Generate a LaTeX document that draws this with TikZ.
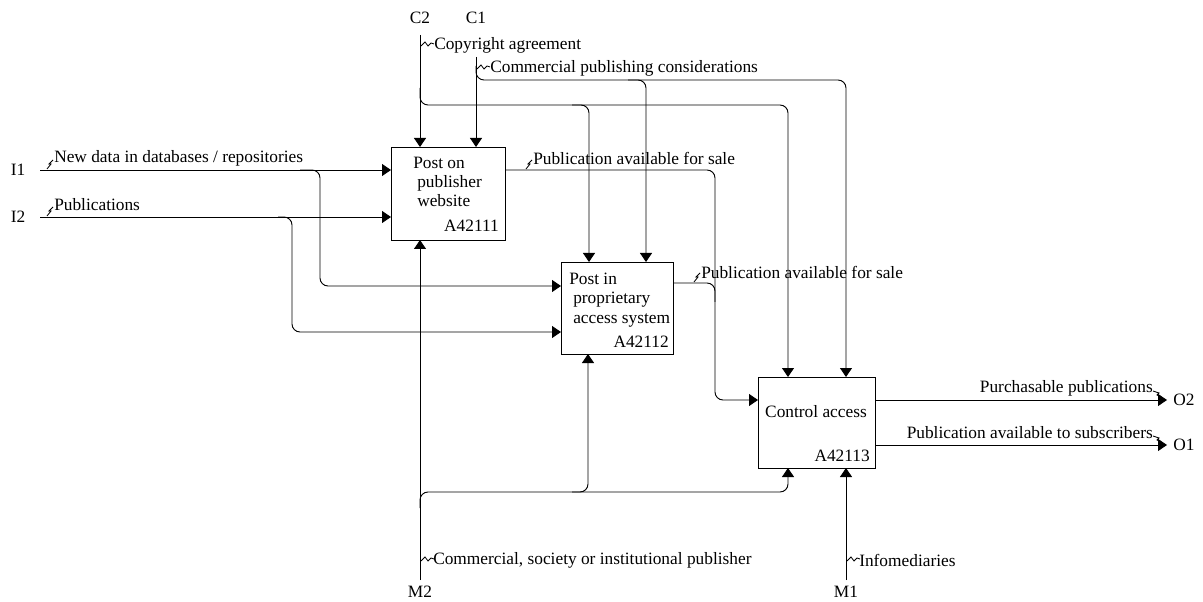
\documentclass[tikz,border=0pt]{standalone}
\usepackage{fontspec}
\setmainfont{Liberation Serif}
\usetikzlibrary{arrows.meta}
\tikzset{
  ln/.style={line width=0.7pt},
  arr/.style={ln, -{Triangle[length=6.75pt,width=9pt]}},
  rc/.style={rounded corners=6pt},
  sq/.style={line width=0.6pt},
  lbl/.style={anchor=west},
  boxtxt/.style={anchor=base west},
  boxid/.style={anchor=base east},
  boxnode/.style={draw, line width=0.7pt, inner sep=0pt, outer sep=0pt}
}
\begin{document}
\begin{tikzpicture}[x=0.75pt,y=-0.75pt,
  every node/.append style={font=\fontsize{13}{15}\selectfont, inner sep=0pt}]
\useasboundingbox (0,0) rectangle (1203,602);

% boxes
\node[boxnode, minimum width=85.5pt, minimum height=69.75pt] (b1) at (448,193.5) {};
\node[boxnode, minimum width=84pt, minimum height=69pt] (b2) at (617,308) {};
\node[boxnode, minimum width=87.75pt, minimum height=68.25pt] (b3) at (816.5,422.5) {};

% box texts
\node[boxtxt] (t1a) at (413,169) {Post on};
\node[boxtxt] (t1b) at (417,188) {publisher};
\node[boxtxt] (t1c) at (417,207) {website};
\node[boxid] (id1) at (499,232) {A42111};
\node[boxtxt] (t2a) at (569,285) {Post in};
\node[boxtxt] (t2b) at (573,304) {proprietary};
\node[boxtxt] (t2c) at (573,324) {access system};
\node[boxid] (id2) at (669,347) {A42112};
\node[anchor=base] (t3) at (816,417) {Control access};
\node[boxid] (id3) at (870,461) {A42113};

% boundary labels
\node (I1) at (18,170) {I1};
\node (I2) at (18,217) {I2};
\node (C2) at (420,18) {C2};
\node (C1) at (476,18) {C1};
\node (M2) at (420,592) {M2};
\node (M1) at (846,592) {M1};
\node[anchor=west] (O2) at (1173,400) {O2};
\node[anchor=west] (O1) at (1173,445) {O1};

\coordinate (i1) at (40,170);
\coordinate (i2) at (40,217);
\coordinate (c2) at (420,35);
\coordinate (c1) at (476,57);
\coordinate (m2) at (420,580);
\coordinate (m1) at (846,580);

% inputs
\draw[arr] (i1) -- (i1 -| b1.west);
\draw[arr, rc] (300,170) -- (320,170) -- (320,286) -- (b2.west |- 0,286);
\draw[arr] (i2) -- (i2 -| b1.west);
\draw[arr, rc] (278,217) -- (292,217) -- (292,332) -- (b2.west |- 0,332);

% controls
\draw[arr] (c2) -- (c2 |- b1.north);
\draw[arr, rc] (420,88) -- (420,105) -- (788,105) -- (b3.north -| 788,0);
\draw[arr, rc] (572,105) -- (589,105) -- (b2.north -| 589,0);
\draw[arr] (c1) -- (c1 |- b1.north);
\draw[arr, rc] (476,66) -- (476,80) -- (846,80) -- (b3.north -| 846,0);
\draw[arr, rc] (628,80) -- (646,80) -- (b2.north -| 646,0);

% internal outputs
\draw[arr, rc] (b1.east |- 0,170) -- (715,170) -- (715,400) -- (b3.west |- 0,400);
\draw[ln, rc] (b2.east |- 0,283) -- (715,283) -- (715,302);

% outputs
\draw[arr] (b3.east |- O2) -- ([xshift=-4.5pt]O2.west);
\draw[arr] (b3.east |- O1) -- ([xshift=-4.5pt]O1.west);

% mechanisms
\draw[arr] (m2) -- (m2 |- b1.south);
\draw[arr, rc] (420,508) -- (420,492) -- (788,492) -- (b3.south -| 788,0);
\draw[arr, rc] (572,492) -- (588,492) -- (b2.south -| 588,0);
\draw[arr] (m1) -- (m1 |- b3.south);

% arrow labels
\node[lbl] (l1) at (54,158) {New data in databases / repositories};
\draw[sq] (47,169) -- (51,164) -- (49,164) -- (53,160);
\node[lbl] (l2) at (54,205) {Publications};
\draw[sq] (47,216) -- (51,211) -- (49,211) -- (53,207);
\node[lbl] (l3) at (434,45) {Copyright agreement};
\draw[sq] (421,46) -- (425,42) -- (428,46) -- (431,43) -- (434,44);
\node[lbl] (l4) at (490,68) {Commercial publishing considerations};
\draw[sq] (477,69) -- (481,65) -- (484,69) -- (487,66) -- (490,67);
\node[lbl] (l5) at (533,158) {Publication available for sale};
\draw[sq] (526,169) -- (530,164) -- (528,164) -- (532,160);
\node[lbl] (l6) at (701,272) {Publication available for sale};
\draw[sq] (694,282) -- (698,277) -- (696,277) -- (700,273);
\node[anchor=east] (l7) at (1153,388) {Purchasable publications};
\draw[sq] (1153,391) -- (1159,393) -- (1157,395) -- (1163,398);
\node[anchor=east] (l8) at (1153,433) {Publication available to subscribers};
\draw[sq] (1153,436) -- (1159,438) -- (1157,440) -- (1163,443);
\node[lbl] (l9) at (433,560) {Commercial, society or institutional publisher};
\draw[sq] (421,561) -- (425,557) -- (428,561) -- (431,558) -- (434,559);
\node[lbl] (l10) at (859,560) {Infomediaries};
\draw[sq] (847,561) -- (851,557) -- (854,561) -- (857,558) -- (860,559);
\end{tikzpicture}
\end{document}
